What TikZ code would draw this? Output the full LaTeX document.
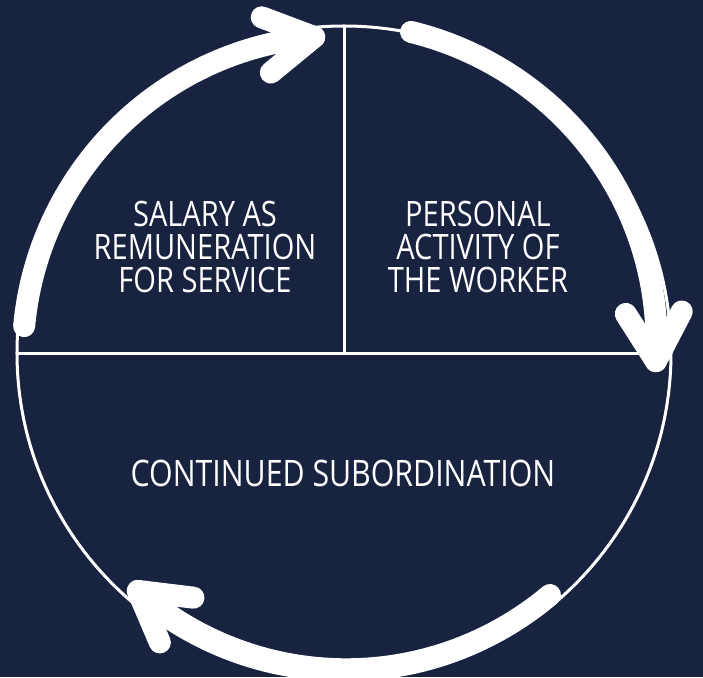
\documentclass[tikz,border=0pt]{standalone}
\usepackage{fontspec}
\newfontfamily\lblfont{Open Sans}[FakeStretch=0.83]
\usetikzlibrary{calc,positioning}
\definecolor{navy}{RGB}{24,35,64}

\begin{document}
\begin{tikzpicture}[x=1pt,y=1pt,
  ring/.style={
   draw=white,
   line width=3pt
  },
  flow/.style={
    draw=white,
    line width=22pt,
    line cap=round,
    line join=round
  },
  lbl/.style={
    text=white,
    align=center,
    font=\lblfont\fontsize{35}{33}\selectfont
  }]
	\fill[navy] (-344,-324) rectangle (359,353);
	\useasboundingbox (-344,-324) rectangle (359,353);

	% the circle, split in three
	\draw[ring] (0,0) circle (327);
	\draw[ring] (180:327) -- (0:327);
	\draw[ring] (0,0) -- (90:327);

	\node[lbl] (salary) at (-139,106)
		  {SALARY AS\\REMUNERATION\\FOR SERVICE};
	\node[lbl] (activity) at (134,106)
		  {PERSONAL\\ACTIVITY OF\\THE WORKER};
	\node[lbl,font=\lblfont\fontsize{36.5}{33}\selectfont] (subord) at (-1,-120)
		  {CONTINUED SUBORDINATION};

	% arrow heads
	\coordinate (headL) at (95.4:317.4);
	\coordinate (headR) at (-1.5:312);
	\coordinate (headB) at (229.1:314.8);

	% left arc
	\draw[flow] plot[domain=175.2:95.4,samples=60]
		  (\x:{321+(317.4-321)*(\x-175.2)/(95.4-175.2)});
	\draw[flow] ($(headL)+(95.4-90+4+150:56)$) -- (headL)
		  -- ($(headL)+(95.4-90+4+210:56)$);
	% right arc
	\draw[flow] plot[domain=78.2:-1.5,samples=60]
		  (\x:{328+(312-328)*(\x-78.2)/(-1.5-78.2)});
	\draw[flow] ($(headR)+(-1.5-90+4+150:56)$) -- (headR)
		  -- ($(headR)+(-1.5-90+4+210:56)$);
	% bottom arc
	\draw[flow] plot[domain=-49.6:-130.9,samples=60]
		  (\x:{317.8+(314.8-317.8)*(\x+49.6)/(-130.9+49.6)});
	\draw[flow] ($(headB)+(229.1-90+4+150:56)$) -- (headB)
		  -- ($(headB)+(229.1-90+4+210:56)$);
\end{tikzpicture}
\end{document}
